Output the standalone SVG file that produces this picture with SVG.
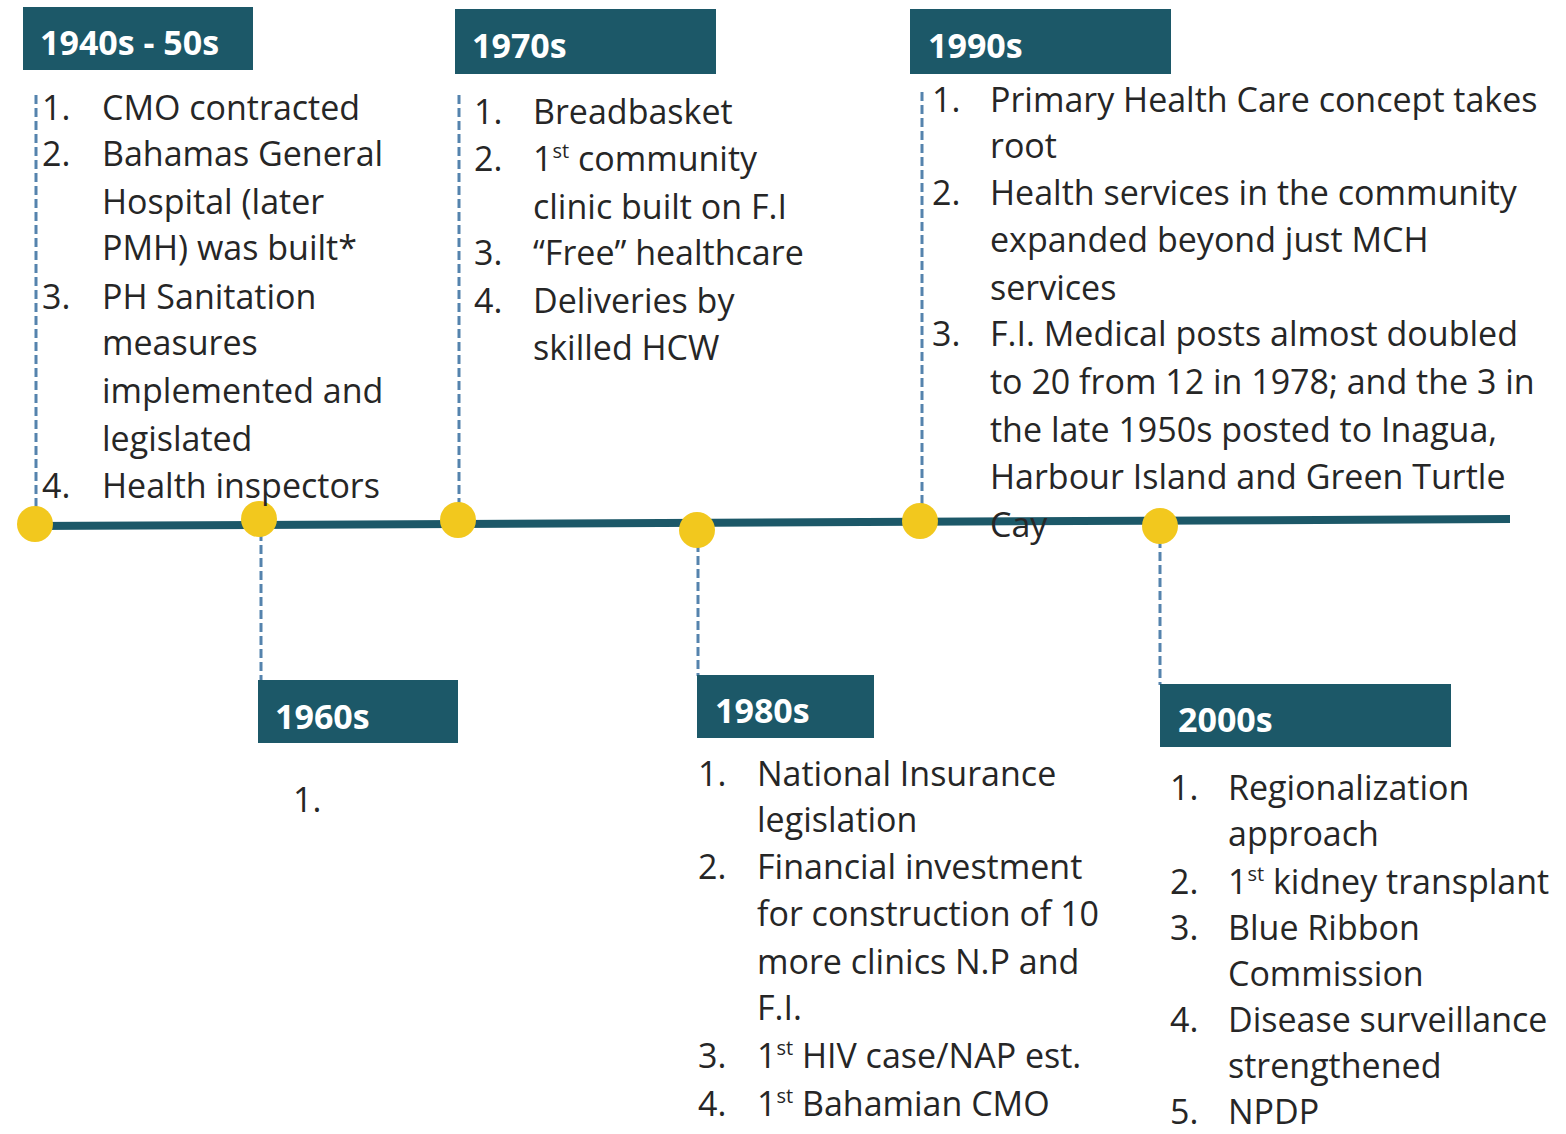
<svg xmlns="http://www.w3.org/2000/svg" width="1566" height="1134" viewBox="0 0 1566 1134">
<style>
.hdr{fill:#1c5868}
.ht{fill:#ffffff;font-family:"Open Sans",Lato,sans-serif;font-weight:bold;font-size:34px}
.t{fill:#262626;font-family:"Open Sans",Lato,sans-serif;font-size:34px}
.sup{font-size:20px}
.dash{stroke:#5583ad;stroke-width:3;stroke-dasharray:9 4;fill:none}
.dot{fill:#f2c81e}
</style>
<rect width="1566" height="1134" fill="#ffffff"/>
<g id="connectors">
<line class="dash" x1="36" y1="95" x2="36" y2="524"/>
<line class="dash" x1="261" y1="519" x2="261" y2="680"/>
<line class="dash" x1="459" y1="95" x2="459" y2="520"/>
<line class="dash" x1="698" y1="530" x2="698" y2="676"/>
<line class="dash" x1="922" y1="92" x2="922" y2="520"/>
<line class="dash" x1="1160" y1="526" x2="1160" y2="685"/>
<line x1="30" y1="526" x2="1510" y2="519" stroke="#1c5868" stroke-width="8"/>
</g>
<g id="dots">
<circle class="dot" cx="35" cy="524" r="18"/>
<circle class="dot" cx="259" cy="519" r="18"/>
<circle class="dot" cx="458" cy="520" r="18"/>
<circle class="dot" cx="697" cy="530" r="18"/>
<circle class="dot" cx="920" cy="521" r="18"/>
<circle class="dot" cx="1160" cy="526" r="18"/>
</g>
<g id="n1940">
<rect class="hdr" x="23" y="7" width="230" height="63"/>
<text class="ht" x="40" y="55">1940s - 50s</text>
<text class="t"><tspan x="42" y="120">1.</tspan><tspan x="102" y="120">CMO contracted</tspan><tspan x="42" y="166">2.</tspan><tspan x="102" y="166">Bahamas General</tspan><tspan x="102" y="214">Hospital (later</tspan><tspan x="102" y="260">PMH) was built*</tspan><tspan x="42" y="309">3.</tspan><tspan x="102" y="309">PH Sanitation</tspan><tspan x="102" y="355">measures</tspan><tspan x="102" y="403">implemented and</tspan><tspan x="102" y="451">legislated</tspan><tspan x="42" y="498">4.</tspan><tspan x="102" y="498">Health inspectors</tspan></text>
</g>
<g id="n1970">
<rect class="hdr" x="455" y="9" width="261" height="65"/>
<text class="ht" x="472" y="58">1970s</text>
<text class="t"><tspan x="474" y="124">1.</tspan><tspan x="533" y="124">Breadbasket</tspan><tspan x="474" y="171">2.</tspan><tspan x="533" y="171">1<tspan class="sup" dy="-13">st</tspan><tspan dy="13"> community</tspan></tspan><tspan x="533" y="219">clinic built on F.I</tspan><tspan x="474" y="265">3.</tspan><tspan x="533" y="265">“Free” healthcare</tspan><tspan x="474" y="313">4.</tspan><tspan x="533" y="313">Deliveries by</tspan><tspan x="533" y="360">skilled HCW</tspan></text>
</g>
<g id="n1990">
<rect class="hdr" x="910" y="9" width="261" height="65"/>
<text class="ht" x="928" y="58">1990s</text>
<text class="t"><tspan x="932" y="112">1.</tspan><tspan x="990" y="112">Primary Health Care concept takes</tspan><tspan x="990" y="158">root</tspan><tspan x="932" y="205">2.</tspan><tspan x="990" y="205">Health services in the community</tspan><tspan x="990" y="252">expanded beyond just MCH</tspan><tspan x="990" y="300">services</tspan><tspan x="932" y="346">3.</tspan><tspan x="990" y="346">F.I. Medical posts almost doubled</tspan><tspan x="990" y="394">to 20 from 12 in 1978; and the 3 in</tspan><tspan x="990" y="442">the late 1950s posted to Inagua,</tspan><tspan x="990" y="489">Harbour Island and Green Turtle</tspan><tspan x="990" y="537">Cay</tspan></text>
</g>
<g id="n1960">
<rect class="hdr" x="258" y="680" width="200" height="63"/>
<text class="ht" x="275" y="729">1960s</text>
<text class="t" x="293" y="812">1.</text>
</g>
<g id="n1980">
<rect class="hdr" x="697" y="675" width="177" height="63"/>
<text class="ht" x="715" y="723">1980s</text>
<text class="t"><tspan x="698" y="786">1.</tspan><tspan x="757" y="786">National Insurance</tspan><tspan x="757" y="832">legislation</tspan><tspan x="698" y="879">2.</tspan><tspan x="757" y="879">Financial investment</tspan><tspan x="757" y="926">for construction of 10</tspan><tspan x="757" y="974">more clinics N.P and</tspan><tspan x="757" y="1020">F.I.</tspan><tspan x="698" y="1068">3.</tspan><tspan x="757" y="1068">1<tspan class="sup" dy="-13">st</tspan><tspan dy="13"> HIV case/NAP est.</tspan></tspan><tspan x="698" y="1116">4.</tspan><tspan x="757" y="1116">1<tspan class="sup" dy="-13">st</tspan><tspan dy="13"> Bahamian CMO</tspan></tspan></text>
</g>
<g id="n2000">
<rect class="hdr" x="1160" y="684" width="291" height="63"/>
<text class="ht" x="1178" y="732">2000s</text>
<text class="t"><tspan x="1170" y="800">1.</tspan><tspan x="1228" y="800">Regionalization</tspan><tspan x="1228" y="846">approach</tspan><tspan x="1170" y="894">2.</tspan><tspan x="1228" y="894">1<tspan class="sup" dy="-13">st</tspan><tspan dy="13"> kidney transplant</tspan></tspan><tspan x="1170" y="940">3.</tspan><tspan x="1228" y="940">Blue Ribbon</tspan><tspan x="1228" y="986">Commission</tspan><tspan x="1170" y="1032">4.</tspan><tspan x="1228" y="1032">Disease surveillance</tspan><tspan x="1228" y="1078">strengthened</tspan><tspan x="1170" y="1124">5.</tspan><tspan x="1228" y="1124">NPDP</tspan></text>
</g>
</svg>
